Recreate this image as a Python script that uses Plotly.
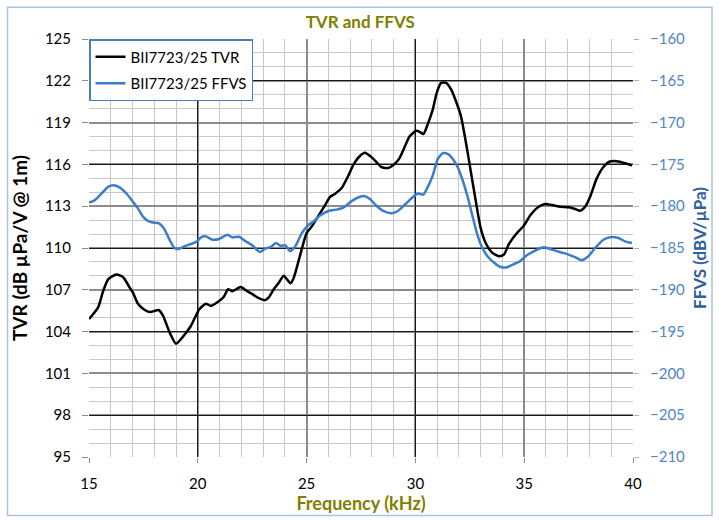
import plotly.graph_objects as go

# ---- data ----
tvr_freq = [15.0, 15.42, 15.65, 15.88, 16.26, 16.57, 16.87, 17.02, 17.25, 17.56, 17.79, 17.94,
            18.2, 18.4, 18.7, 19.0, 19.3, 19.68, 20.07, 20.37, 20.6, 20.98, 21.2, 21.39, 21.59,
            21.97, 22.27, 22.56, 22.8, 23.1, 23.26, 23.49, 23.72, 23.95, 24.1, 24.26, 24.41,
            24.71, 25.0, 25.24, 25.55, 25.85, 26.08, 26.31, 26.61, 26.92, 27.15, 27.45, 27.68,
            27.98, 28.21, 28.44, 28.74, 29.05, 29.27, 29.5, 29.73, 30.04, 30.19, 30.37, 30.57,
            30.8, 30.98, 31.18, 31.41, 31.64, 31.86, 32.09, 32.32, 32.55, 32.78, 33.0, 33.23,
            33.54, 33.84, 34.07, 34.3, 34.6, 34.98, 35.29, 35.67, 35.97, 36.28, 36.66, 37.04,
            37.34, 37.57, 37.8, 38.03, 38.33, 38.64, 38.94, 39.25, 39.63, 39.95]
tvr_db = [104.9, 105.74, 106.9, 107.75, 108.1, 107.9, 107.16, 106.8, 106.0, 105.55, 105.4, 105.45,
          105.55, 105.15, 103.96, 103.13, 103.6, 104.4, 105.6, 106.0, 105.85, 106.2, 106.5, 107.04, 106.9,
          107.2, 106.9, 106.64, 106.4, 106.26, 106.45, 107.04, 107.5, 108.0, 107.75, 107.47, 107.87,
          109.53, 111.07, 111.55, 112.33, 113.08, 113.67, 113.9, 114.3, 115.2, 115.97, 116.6, 116.83,
          116.52, 116.17, 115.8, 115.74, 116.04, 116.45, 117.23, 118.0, 118.41, 118.34, 118.18, 118.9,
          119.95, 121.14, 121.85, 121.85, 121.38, 120.55, 119.48, 117.59, 115.46, 113.32, 111.43, 110.36,
          109.65, 109.41, 109.53, 110.29, 110.95, 111.6, 112.37, 112.96, 113.15, 113.08, 112.96, 112.92,
          112.8, 112.68, 112.96, 113.68, 114.98, 115.81, 116.21, 116.23, 116.09, 115.92]

ffvs_freq = [15.0, 15.27, 15.58, 15.88, 16.11, 16.42, 16.72, 17.02, 17.25, 17.48, 17.71, 17.94,
             18.2, 18.44, 18.7, 18.93, 19.11, 19.38, 19.69, 19.92, 20.15, 20.37, 20.68, 20.98,
             21.36, 21.59, 21.89, 22.2, 22.5, 22.85, 23.1, 23.33, 23.6, 23.79, 24.02, 24.25,
             24.48, 24.78, 25.09, 25.32, 25.62, 26.0, 26.38, 26.69, 27.07, 27.45, 27.68, 27.91,
             28.21, 28.52, 28.9, 29.2, 29.5, 29.81, 30.11, 30.37, 30.57, 30.8, 31.03, 31.26,
             31.48, 31.71, 31.94, 32.17, 32.4, 32.63, 32.85, 33.08, 33.31, 33.62, 33.92, 34.22,
             34.5, 34.8, 35.06, 35.44, 35.9, 36.28, 36.66, 37.04, 37.34, 37.65, 37.95, 38.26,
             38.64, 39.02, 39.33, 39.63, 39.95]
ffvs_db = [-179.58, -179.27, -178.48, -177.69, -177.5, -177.77, -178.48, -179.47, -180.26, -181.24, -181.76, -181.95,
           -182.03, -182.63, -184.01, -185.0, -185.11, -184.8, -184.52, -184.28, -183.73, -183.61, -184.01, -183.93,
           -183.42, -183.73, -183.66, -184.2, -184.68, -185.47, -185.08, -184.91, -184.4, -184.72, -184.68, -185.39,
           -184.8, -183.22, -182.23, -181.83, -181.12, -180.57, -180.41, -180.17, -179.39, -178.87, -178.8, -179.15,
           -179.94, -180.57, -180.85, -180.57, -179.86, -179.07, -178.48, -178.6, -177.69, -176.31, -174.33, -173.66,
           -173.74, -174.33, -175.32, -176.9, -178.87, -181.24, -183.42, -185.0, -185.98, -186.77, -187.28, -187.3,
           -186.95, -186.6, -185.98, -185.39, -184.91, -185.2, -185.5, -185.79, -186.1, -186.45, -185.98, -185.0,
           -184.01, -183.69, -183.81, -184.2, -184.4]

tvr_ticks = [95, 98, 101, 104, 107, 110, 113, 116, 119, 122, 125]
ffvs_ticks = [-210, -205, -200, -195, -190, -185, -180, -175, -170, -165, -160]
freq_ticks = [15, 20, 25, 30, 35, 40]

FONT = "Lato"
OLIVE = "#7f7f00"

fig = go.Figure()
fig.add_trace(go.Scatter(x=tvr_freq, y=tvr_db, mode="lines", name="BII7723/25 TVR",
                         line=dict(color="black", width=2.5, shape="spline", smoothing=0.6),
                         xaxis="x", yaxis="y", legendgroup="a"))
fig.add_trace(go.Scatter(x=ffvs_freq, y=ffvs_db, mode="lines", name="BII7723/25 FFVS",
                         line=dict(color="#3a7dc9", width=2.5, shape="spline", smoothing=0.6),
                         xaxis="x", yaxis="y2", legendgroup="b"))
# empty helper trace for the overlay grid axes
fig.add_trace(go.Scatter(x=[], y=[], xaxis="x2", yaxis="y3", showlegend=False, hoverinfo="skip"))

fig.update_layout(
    width=719, height=522,
    margin=dict(l=89, r=83, t=39, b=61),
    paper_bgcolor="white", plot_bgcolor="white",
    font=dict(family=FONT, size=15, color="black"),
    title=dict(text="<b>TVR and FFVS</b>", x=0.4986, xref="paper", xanchor="center",
               y=1 - 22 / 522, yanchor="middle", font=dict(family=FONT, size=17, color=OLIVE)),
    showlegend=True,
    legend=dict(x=0.0, y=1.0, xanchor="left", yanchor="top", bgcolor="white",
                bordercolor="#4a7ebb", borderwidth=1.5, font=dict(family=FONT, size=15),
                tracegroupgap=4, traceorder="grouped"),
    xaxis=dict(range=[15, 40], tickvals=freq_ticks, showgrid=True, gridcolor="#8c8c8c", gridwidth=1.5,
               minor=dict(dtick=1, showgrid=True, gridcolor="#c8c8c8", gridwidth=1),
               ticks="outside", ticklen=5, tickcolor="#8c8c8c", ticklabelstandoff=8,
               zeroline=False, showline=False,
               title=dict(text="<b>Frequency (kHz)</b>", font=dict(family=FONT, size=18, color=OLIVE),
                          standoff=5)),
    yaxis=dict(range=[95, 125], tickvals=tvr_ticks, showgrid=True, gridcolor="#8c8c8c", gridwidth=1.5,
               minor=dict(dtick=1, showgrid=True, gridcolor="#c8c8c8", gridwidth=1),
               ticks="outside", ticklen=6, tickcolor="#8c8c8c", ticklabelstandoff=8,
               zeroline=False, showline=False,
               title=dict(text="<b>TVR (dB µPa/V @ 1m)</b>", font=dict(family=FONT, size=19, color="black"),
                          standoff=12)),
    yaxis2=dict(range=[-210, -160], tickvals=ffvs_ticks, overlaying="y", side="right", showgrid=False,
                ticks="outside", ticklen=5, tickcolor="#b0b0b0", ticklabelstandoff=8,
                tickfont=dict(color="#4f86c6", size=15), zeroline=False, showline=False,
                title=dict(text="<b>FFVS (dBV/µPa)</b>", font=dict(family=FONT, size=17, color="#2f5f9e"),
                           standoff=10)),
    xaxis2=dict(range=[15, 40], overlaying="x", tick0=20, dtick=10, showgrid=True, gridcolor="#1a1a1a",
                gridwidth=1, showticklabels=False, ticks="", zeroline=False, showline=False),
    yaxis3=dict(range=[95, 125], overlaying="y", tick0=98, dtick=6, showgrid=True, gridcolor="#1a1a1a",
                gridwidth=1, showticklabels=False, ticks="", zeroline=False, showline=False),
    shapes=[dict(type="rect", xref="paper", yref="paper",
                 x0=(7 - 89) / 547.5, x1=(716 - 89) / 547.5,
                 y0=(461 - 520) / 422, y1=(461 - 7) / 422,
                 line=dict(color="#a9c3e0", width=1.5), fillcolor="rgba(0,0,0,0)", layer="below")],
)

fig.write_html("out.html")
